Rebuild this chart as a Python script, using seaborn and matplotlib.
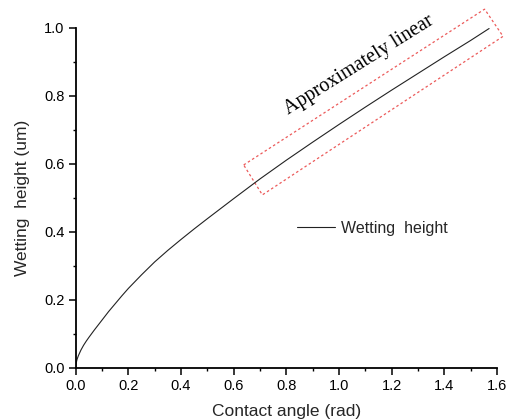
import numpy as np
import pandas as pd
import matplotlib
matplotlib.use("Agg")
import matplotlib.pyplot as plt
from matplotlib.patches import Polygon
from matplotlib.ticker import MultipleLocator
import seaborn as sns

# Wetting height versus contact angle
contact_angle = [0.0, 0.002, 0.005, 0.01, 0.02, 0.03, 0.04, 0.05, 0.07, 0.1,
                 0.125, 0.15, 0.175, 0.2, 0.25, 0.3, 0.35, 0.4, 0.45, 0.5,
                 0.6, 0.7, 0.8, 0.9, 1.0, 1.1, 1.2, 1.3, 1.4, 1.5, 1.57]
wetting_height = [0.0, 0.014, 0.024, 0.035, 0.052, 0.066, 0.078, 0.089,
                  0.110, 0.140, 0.165, 0.188, 0.211, 0.233, 0.273, 0.311,
                  0.345, 0.377, 0.408, 0.438, 0.497, 0.555, 0.610, 0.663,
                  0.715, 0.766, 0.816, 0.865, 0.914, 0.962, 0.997]

# Corners of the dashed box marking the nearly linear stretch (data units)
box_x = [0.638, 1.553, 1.623, 0.709]
box_y = [0.596, 1.054, 0.974, 0.508]

x_ticks = [0.0, 0.2, 0.4, 0.6, 0.8, 1.0, 1.2, 1.4, 1.6]
y_ticks = [0.0, 0.2, 0.4, 0.6, 0.8, 1.0]

sns.set_style("ticks")
plt.rcParams["font.family"] = ["Liberation Sans", "DejaVu Sans"]

df = pd.DataFrame({"angle": contact_angle, "height": wetting_height})

fig = plt.figure(figsize=(5.1, 4.2), dpi=100)
ax = fig.add_axes([0.1484, 0.1245, 0.9745 - 0.1484, 0.9345 - 0.1245])

sns.lineplot(data=df, x="angle", y="height", ax=ax, color="#222222",
             linewidth=0.8, label="Wetting  height")

ax.set_xlim(0, 1.6)
ax.set_ylim(0, 1.0)
ax.set_xticks(x_ticks)
ax.set_yticks(y_ticks)
ax.set_xticklabels([f"{v:.1f}" for v in x_ticks])
ax.set_yticklabels([f"{v:.1f}" for v in y_ticks])
ax.xaxis.set_minor_locator(MultipleLocator(0.1))
ax.yaxis.set_minor_locator(MultipleLocator(0.1))
ax.tick_params(which="major", direction="out", length=5, width=1.1,
               labelsize=10.5, color="black", labelcolor="black", pad=3)
ax.tick_params(which="minor", direction="out", length=2.5, width=1.0,
               color="black")

for side in ("top", "right"):
    ax.spines[side].set_visible(False)
for side in ("left", "bottom"):
    ax.spines[side].set_linewidth(1.3)
    ax.spines[side].set_color("black")

ax.set_xlabel("Contact angle (rad)", fontsize=12.5, labelpad=8)
ax.set_ylabel("Wetting  height (um)", fontsize=12.5, labelpad=10)

box = Polygon(np.column_stack([box_x, box_y]), closed=True, fill=False,
              edgecolor="#ec5a5a", linewidth=0.9, linestyle=(0, (2, 2)),
              clip_on=False)
ax.add_patch(box)

ax.text(1.075, 0.888, "Approximately linear", rotation=32.0,
        rotation_mode="anchor", ha="center", va="center",
        family=["Liberation Serif", "DejaVu Serif"], fontsize=14.5,
        color="black")

ax.legend(loc="center left", bbox_to_anchor=(0.5818, 0.4564),
          bbox_transform=fig.transFigure, frameon=False, fontsize=11.5,
          handlelength=2.4, handletextpad=0.4, borderpad=0, borderaxespad=0)

fig.savefig("out.png", dpi=100)
